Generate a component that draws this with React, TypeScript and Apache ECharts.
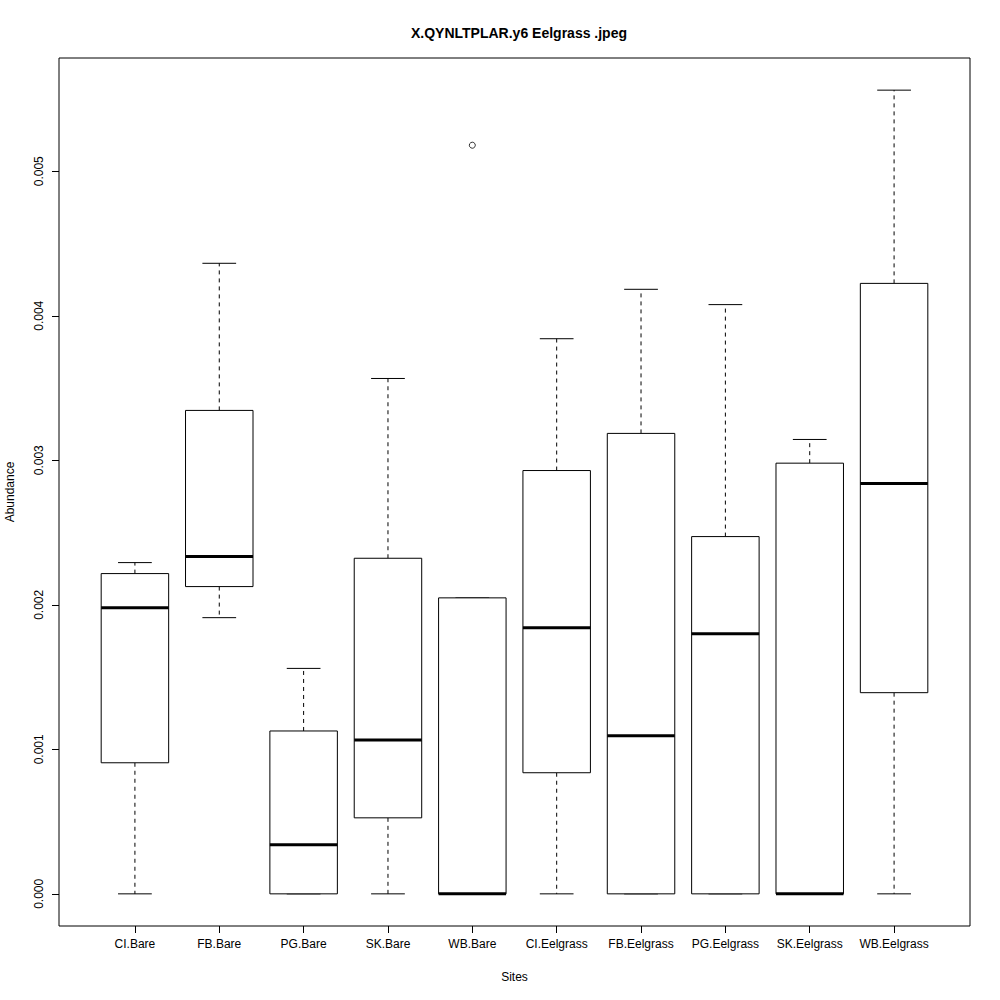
import React, { useEffect, useRef } from "react";
import * as echarts from "echarts";

const categories = [
  "CI.Bare", "FB.Bare", "PG.Bare", "SK.Bare", "WB.Bare",
  "CI.Eelgrass", "FB.Eelgrass", "PG.Eelgrass", "SK.Eelgrass", "WB.Eelgrass",
];
const whiskerLow = [0, 0.001911, 0, 0, 0, 0, 0, 0, 0, 0];
const q1 = [0.000907, 0.002126, 0, 0.000526, 0, 0.000838, 0, 0, 0, 0.001392];
const median = [0.00198, 0.002334, 0.000339, 0.001064, 0, 0.001842, 0.001094, 0.0018, 0, 0.002839];
const q3 = [0.002216, 0.003345, 0.001127, 0.002322, 0.002048, 0.002929, 0.003186, 0.002472, 0.00298, 0.004224];
const whiskerHigh = [0.002292, 0.004363, 0.00156, 0.003566, 0.002048, 0.003841, 0.004183, 0.004077, 0.003144, 0.005561];
const outlierCategory = ["WB.Bare"];
const outlierValue = [0.00518];
const yTicks = [0, 0.001, 0.002, 0.003, 0.004, 0.005];

const FONT = "'Liberation Sans', Arial, Helvetica, sans-serif";

export default function App() {
  const ref = useRef<HTMLDivElement>(null);
  useEffect(() => {
    document.body.style.margin = "0";
    const chart = echarts.init(ref.current!, null, { renderer: "svg" });
    const xTicks = categories.map((_, i) => i + 1);
    const boxData = categories.map((_, i) => [
      i + 1, whiskerLow[i], q1[i], median[i], q3[i], whiskerHigh[i],
    ]);
    const outData = outlierCategory.map((c, i) => [categories.indexOf(c) + 1, outlierValue[i]]);
    const dataMax = Math.max(...whiskerHigh, ...outlierValue);
    const dataMin = 0;
    const ext = (dataMax - dataMin) * 0.04;

    chart.setOption({
      animation: false,
      backgroundColor: "#fff",
      title: {
        text: "X.QYNLTPLAR.y6 Eelgrass .jpeg",
        left: 514,
        top: 21,
        textAlign: "center",
        textStyle: { fontFamily: FONT, fontSize: 14, fontWeight: "bold", color: "#000" },
      },
      grid: {
        left: 59, right: 30, top: 58, bottom: 74,
        containLabel: false,
        outerBoundsMode: "none",
        show: true, borderColor: "#000", borderWidth: 1, backgroundColor: "transparent",
      },
      xAxis: {
        type: "value",
        min: 0.1,
        max: 10.9,
        name: "Sites",
        nameLocation: "middle",
        nameGap: 45,
        nameTextStyle: { fontFamily: FONT, fontSize: 12, color: "#000" },
        axisLine: { show: false, onZero: false },
        splitLine: { show: false },
        axisTick: { show: true, length: 7, customValues: xTicks, lineStyle: { color: "#000" } },
        axisLabel: {
          customValues: xTicks,
          margin: 12,
          fontFamily: FONT, fontSize: 12, color: "#000",
          formatter: (v: number) => categories[Math.round(v) - 1] ?? "",
        },
      },
      yAxis: {
        type: "value",
        min: dataMin - ext,
        max: dataMax + ext,
        name: "Abundance",
        nameLocation: "middle",
        nameGap: 43,
        nameRotate: 90,
        nameTextStyle: { fontFamily: FONT, fontSize: 12, color: "#000" },
        axisLine: { show: false, onZero: false },
        splitLine: { show: false },
        axisTick: { show: true, length: 7, customValues: yTicks, lineStyle: { color: "#000" } },
        axisLabel: {
          customValues: yTicks,
          rotate: 90,
          margin: 14,
          fontFamily: FONT, fontSize: 12, color: "#000",
          formatter: (v: number) => v.toFixed(3),
        },
      },
      series: [
        {
          type: "custom",
          data: boxData,
          encode: { x: 0, y: [1, 2, 3, 4, 5] },
          renderItem: (params: any, api: any) => {
            const x = api.value(0);
            const pLo = api.coord([x, api.value(1)]);
            const pQ1 = api.coord([x, api.value(2)]);
            const pMed = api.coord([x, api.value(3)]);
            const pQ3 = api.coord([x, api.value(4)]);
            const pHi = api.coord([x, api.value(5)]);
            const boxW = api.size([0.8, 0])[0];
            const capW = api.size([0.4, 0])[0];
            const cx = pMed[0];
            const children: any[] = [];
            const dashStyle = { stroke: "#000", lineWidth: 1, lineDash: [4, 4] };
            const solid = { stroke: "#000", lineWidth: 1 };
            if (pHi[1] < pQ3[1]) {
              children.push({ type: "line", shape: { x1: cx, y1: pQ3[1], x2: cx, y2: pHi[1] }, style: dashStyle });
            }
            if (pLo[1] > pQ1[1]) {
              children.push({ type: "line", shape: { x1: cx, y1: pQ1[1], x2: cx, y2: pLo[1] }, style: dashStyle });
            }
            children.push({ type: "line", shape: { x1: cx - capW / 2, y1: pHi[1], x2: cx + capW / 2, y2: pHi[1] }, style: solid });
            children.push({ type: "line", shape: { x1: cx - capW / 2, y1: pLo[1], x2: cx + capW / 2, y2: pLo[1] }, style: solid });
            children.push({
              type: "rect",
              shape: { x: cx - boxW / 2, y: pQ3[1], width: boxW, height: pQ1[1] - pQ3[1] },
              style: { fill: "#fff", stroke: "#000", lineWidth: 1 },
            });
            children.push({
              type: "line",
              shape: { x1: cx - boxW / 2, y1: pMed[1], x2: cx + boxW / 2, y2: pMed[1] },
              style: { stroke: "#000", lineWidth: 3 },
            });
            return { type: "group", children };
          },
        },
        {
          type: "scatter",
          data: outData,
          symbol: "circle",
          symbolSize: 6,
          itemStyle: { color: "#fff", borderColor: "#000", borderWidth: 1 },
        },
      ],
    });
    return () => chart.dispose();
  }, []);
  return <div ref={ref} style={{ width: 1000, height: 1000 }} />;
}
